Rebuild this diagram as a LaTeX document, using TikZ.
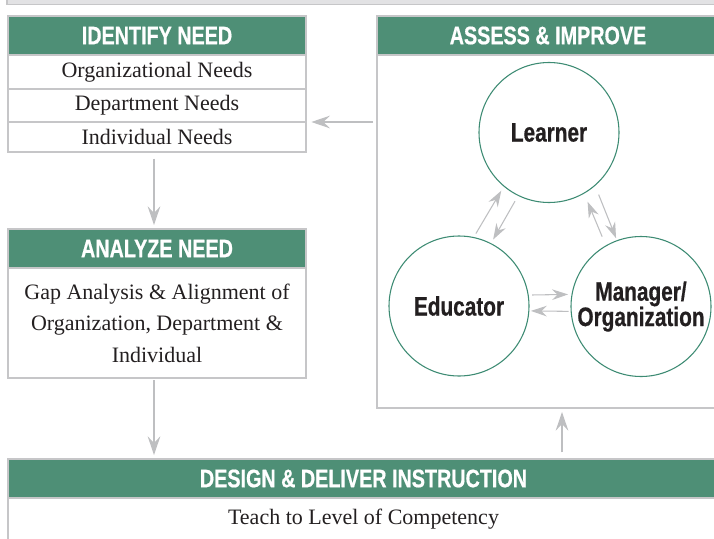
\documentclass[tikz,border=0pt]{standalone}
\usepackage{fontspec}
\setmainfont{Liberation Serif}
\newfontfamily\headfont[FakeStretch=0.78,BoldFeatures={FakeBold=0.6}]{Liberation Sans}
\usetikzlibrary{arrows.meta,positioning}
\definecolor{needgreen}{HTML}{4E8F76}
\definecolor{ringgreen}{HTML}{3D8B73}
\definecolor{boxgrey}{HTML}{C6C6C8}
\definecolor{arrowgrey}{HTML}{BEBFC1}
\definecolor{stripgrey}{HTML}{E2E2E4}
\definecolor{inkblack}{HTML}{231F20}
\tikzset{
	headbox/.style={fill=needgreen,draw=boxgrey,line width=0.8pt,text=white,inner sep=0pt,outer sep=0pt,minimum height=29.25pt,font=\headfont\bfseries\fontsize{19}{20}\selectfont},
	rowbox/.style={draw=boxgrey,line width=0.8pt,inner sep=0pt,outer sep=0pt,font=\fontsize{16.5}{23.6}\selectfont,text=inkblack},
	ring/.style={circle,draw=ringgreen,line width=0.8pt,fill=white,minimum size=105pt,inner sep=0pt,outer sep=0pt,align=center,text=inkblack,font=\headfont\bfseries\fontsize{20}{19}\selectfont},
	flow/.style={draw=arrowgrey,line width=0.9pt,-{Stealth[length=14pt,width=9.5pt,inset=5pt]}},
	cycle/.style={draw=arrowgrey,line width=0.8pt,-{Stealth[length=12pt,width=8pt,inset=4pt]}}
}
\begin{document}
\begin{tikzpicture}[x=0.75pt,y=0.75pt,yscale=-1,xscale=1]
			\useasboundingbox (0,0) rectangle (714,539);
			\clip (0,0) rectangle (714,539);
			\draw[draw=boxgrey,fill=stripgrey,line width=0.8pt] (7,-10) rectangle (730,4.5);
			
			% identify need
			\node[headbox,minimum width=223.5pt] (identify) at (157,35.5) {IDENTIFY NEED};
			\node[rowbox,minimum width=223.5pt,minimum height=25.5pt,below=0pt of identify] (orgneeds) {Organizational Needs};
			\node[rowbox,minimum width=223.5pt,minimum height=24.75pt,below=0pt of orgneeds] (deptneeds) {Department Needs};
			\node[rowbox,minimum width=223.5pt,minimum height=22.5pt,below=0pt of deptneeds] (indneeds) {Individual Needs};
			
			% analyze need
			\node[headbox,minimum width=223.5pt] (analyze) at (157,248.5) {ANALYZE NEED};
			\node[rowbox,minimum width=223.5pt,minimum height=82.5pt,align=center,below=0pt of analyze] (gap) {Gap Analysis \& Alignment of\\Organization, Department \&\\Individual};
			
			% assess & improve
			\node[headbox,minimum width=256.5pt] (assess) at (548,35.5) {ASSESS \& IMPROVE};
			\node[rowbox,minimum width=256.5pt,minimum height=264.75pt,below=0pt of assess] (assessbody) {};
			\node[ring] (learner) at (549,132.5) {Learner};
			\node[ring] (educator) at (459,306) {Educator};
			\node[ring] (manager) at (641,306.5) {Manager/\\Organization};
			
			% design & deliver
			\node[headbox,minimum width=533.25pt] (design) at (363.5,478.5) {DESIGN \& DELIVER INSTRUCTION};
			\node[rowbox,minimum width=533.25pt,minimum height=37.5pt,text height=13pt,text depth=11pt,below=0pt of design] (teach) {Teach to Level of Competency};
			
			\draw[flow,shorten <=5pt,shorten >=3pt] ([xshift=-2.25pt]indneeds.south) -- ([xshift=-2.25pt]analyze.north);
			\draw[flow,shorten <=1.5pt,shorten >=3pt] ([xshift=-2.25pt]gap.south) -- ([xshift=-2.25pt]gap.south |- design.north);
			\draw[flow,shorten <=3pt,shorten >=4pt] (assessbody.west |- deptneeds.south east) -- (deptneeds.south east);
			\draw[flow,shorten <=5pt,shorten >=3pt] ([xshift=10.5pt]assessbody.south |- design.north) -- ([xshift=10.5pt]assessbody.south);
			
			\draw[cycle,shorten <=3.5pt,shorten >=4pt] (educator.78) -- (learner.230);
			\draw[cycle,shorten <=5pt,shorten >=3.5pt] (learner.244) -- (educator.63);
			\draw[cycle,shorten <=7.5pt,shorten >=7pt] (manager.120) -- (learner.300);
			\draw[cycle,shorten <=7.5pt,shorten >=2pt] (learner.311) -- (manager.110);
			\draw[cycle,shorten <=3pt,shorten >=3pt] (educator.9) -- (manager.170);
			\draw[cycle,shorten <=2pt,shorten >=1.5pt] (manager.184) -- (educator.356);
			\end{tikzpicture}
\end{document}
